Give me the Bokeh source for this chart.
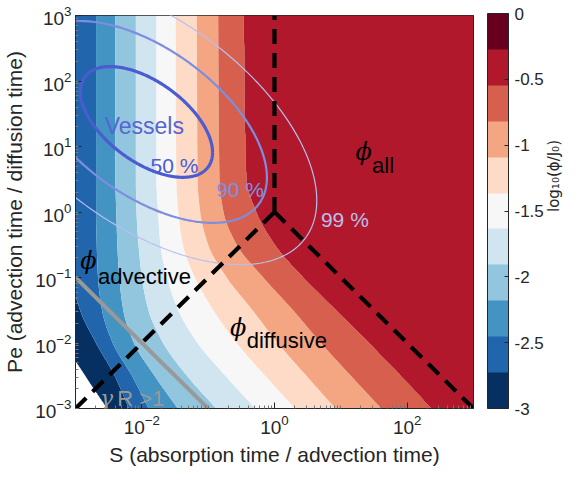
import numpy as np
from bokeh.plotting import figure
from bokeh.models import (Range1d, FixedTicker, LogTickFormatter, ColorBar,
                          LinearColorMapper, Label, LogAxis)
from bokeh.embed import file_html
from bokeh.resources import INLINE

# ---------------- data ----------------
# contour levels of log10(phi/J0) (11 colour classes from -3 to 0)
levels = list(np.round(np.linspace(-3.0, 0.0, 12), 4))
colors = ["#053061", "#2166ac", "#4393c3", "#92c5de", "#d1e5f0", "#f7f7f7",
          "#fddbc7", "#f4a582", "#d6604d", "#b2182b", "#67001f"]

# rows of log10(Pe) at which contour crossings were read
row_logpe = [-3.0, -2.5, -2.0, -1.5, -1.0, -0.5, 0.0, 0.5, 3.0]
# log10(S) where each boundary level (-3 ... -0.545) is crossed on that row
cross_m30 = [-2.52, -2.195, -1.90, -1.46, -0.88, -0.29, 0.31, 0.92, 1.61, 2.36]
cross_m25 = [-2.85, -2.41, -2.15, -1.81, -1.32, -0.74, -0.14, 0.48, 1.15, 1.90]
cross_m20 = [-3.15, -2.69, -2.44, -2.12, -1.68, -1.16, -0.57, 0.05, 0.70, 1.42]
cross_m15 = [-3.30, -2.93, -2.60, -2.28, -1.90, -1.45, -0.92, -0.33, 0.28, 0.93]
cross_m10 = [-3.40, -3.05, -2.66, -2.34, -2.00, -1.62, -1.20, -0.72, -0.17, 0.43]
cross_m05 = [-3.50, -3.01, -2.68, -2.37, -2.05, -1.72, -1.38, -1.00, -0.57, 0.00]
cross_p00 = [-3.60, -3.00, -2.69, -2.385, -2.08, -1.755, -1.45, -1.12, -0.77, -0.28]
cross_p05 = [-3.60, -3.00, -2.69, -2.40, -2.09, -1.78, -1.48, -1.16, -0.83, -0.43]
cross_p30 = [-3.60, -3.00, -2.69, -2.40, -2.09, -1.78, -1.49, -1.17, -0.85, -0.47]
crossings = [cross_m30, cross_m25, cross_m20, cross_m15, cross_m10,
             cross_m05, cross_p00, cross_p05, cross_p30]

# vessel distribution (log10 space): centre, spreads, correlation
vessel_center = (-1.93, 1.375)
vessel_sigma = (0.846, 0.718)
vessel_rho = -0.55
vessel_pct = [50, 90, 99]
vessel_colors = ["#4b5bd0", "#7d8de0", "#b7bff0"]
vessel_widths = [3.2, 2.2, 1.2]

# regime boundaries (S, Pe)
dash_x = [[1e-3, 1.0], [1.0, 1e3], [1.0, 1.0]]
dash_y = [[1e-3, 1.0], [1.0, 1e-3], [1.0, 1e3]]
gray_x = [1e-3, 1e-1]
gray_y = [1e-1, 1e-3]


def pchip(xk, yk, x):
    xk = np.asarray(xk, float)
    yk = np.asarray(yk, float)
    h = np.diff(xk)
    dl = np.diff(yk) / h
    n = xk.size
    d = np.zeros(n)
    for k in range(1, n - 1):
        if dl[k - 1] * dl[k] > 0:
            w1 = 2 * h[k] + h[k - 1]
            w2 = h[k] + 2 * h[k - 1]
            d[k] = (w1 + w2) / (w1 / dl[k - 1] + w2 / dl[k])
    d[0] = dl[0]
    d[-1] = dl[-1]
    i = np.clip(np.searchsorted(xk, x) - 1, 0, n - 2)
    t = (x - xk[i]) / h[i]
    return ((2 * t ** 3 - 3 * t ** 2 + 1) * yk[i] + (t ** 3 - 2 * t ** 2 + t) * h[i] * d[i]
            + (-2 * t ** 3 + 3 * t ** 2) * yk[i + 1] + (t ** 3 - t ** 2) * h[i] * d[i + 1])


# ---------------- field on a grid ----------------
lx = np.linspace(-3, 3, 401)
ly = np.linspace(-3, 3, 401)
cr = np.array(crossings)
bnd = levels[:10]
ck_all = np.stack([pchip(row_logpe, cr[:, k], ly) for k in range(cr.shape[1])], axis=1)
z = np.empty((ly.size, lx.size))
for j in range(ly.size):
    xp = [-10.0] + list(np.maximum.accumulate(ck_all[j])) + [10.0]
    fp = [-4.0] + bnd + [-0.3]
    z[j] = np.interp(lx, xp, fp)
z = np.minimum(z, -0.30)

FONT = "Liberation Sans"
TXT = "#262626"
W, H = 574, 468
ML, MR, MT, MB = 69, 101, 15, 58
FW, FH = W - ML - MR, H - MT - MB

p = figure(width=W, height=H, x_axis_type="log", y_axis_type="log",
           x_range=Range1d(1e-3, 1e3), y_range=Range1d(1e-3, 1e3),
           output_backend="svg", toolbar_location=None,
           min_border_left=ML, min_border_right=MR, min_border_top=MT,
           min_border_bottom=MB)
p.grid.visible = False
p.outline_line_color = TXT
p.outline_line_width = 1
p.background_fill_color = "white"

p.contour(x=10 ** lx, y=10 ** ly, z=z, levels=levels, fill_color=colors,
          line_color=None)

# vessel ellipses
t = np.linspace(0, 2 * np.pi, 400)
for pct, col, w in zip(vessel_pct, vessel_colors, vessel_widths):
    k = np.sqrt(-2 * np.log(1 - pct / 100.0))
    ex = vessel_center[0] + k * vessel_sigma[0] * np.cos(t)
    ey = vessel_center[1] + k * vessel_sigma[1] * (vessel_rho * np.cos(t) +
                                                   np.sqrt(1 - vessel_rho ** 2) * np.sin(t))
    p.line(10 ** ex, 10 ** ey, line_color=col, line_width=w)

p.line(gray_x, gray_y, line_color="#999999", line_width=4)
for xs, ys in zip(dash_x, dash_y):
    p.line(xs, ys, line_color="black", line_width=4.2, line_dash="15 9")

# axes
maj_x = [1e-2, 1.0, 1e2]
maj_y = [10.0 ** e for e in range(-3, 4)]
minor = [m * 10.0 ** e for e in range(-3, 3) for m in range(1, 10)]
minor_x = [v for v in minor if v not in maj_x] + [1e3]

p.xaxis.ticker = FixedTicker(ticks=maj_x, minor_ticks=minor_x)
p.yaxis.ticker = FixedTicker(ticks=maj_y, minor_ticks=minor)
for ax in (p.xaxis[0], p.yaxis[0]):
    ax.formatter = LogTickFormatter()
    ax.major_tick_in = 6
    ax.major_tick_out = 0
    ax.minor_tick_in = 3
    ax.minor_tick_out = 0
    ax.axis_line_color = TXT
    ax.major_tick_line_color = TXT
    ax.minor_tick_line_color = "#777777"
    ax.major_label_text_font = FONT
    ax.major_label_text_font_size = "19px"
    ax.major_label_text_color = TXT
    ax.axis_label_text_font = FONT
    ax.axis_label_text_font_size = "21px"
    ax.axis_label_text_font_style = "normal"
    ax.axis_label_text_color = TXT
p.xaxis.axis_label = "S (absorption time / advection time)"
p.yaxis.axis_label = "Pe (advection time / diffusion time)"
p.xaxis.major_label_standoff = 6
p.yaxis.major_label_standoff = 4
p.xaxis.axis_label_standoff = 6
p.yaxis.axis_label_standoff = 6

# right side: tick-less axis that only carries the colour-bar title
right = LogAxis(ticker=FixedTicker(ticks=[]))
right.axis_line_color = TXT
right.axis_label = "log\u2081\u2080(\u03d5/J\u2080)"
right.axis_label_text_font = "DejaVu Sans"
right.axis_label_text_font_size = "15px"
right.axis_label_text_font_style = "normal"
right.axis_label_text_color = TXT
right.axis_label_standoff = 80
try:
    right.axis_label_orientation = float(np.pi / 2)
except Exception:
    pass
p.add_layout(right, "right")

# colour bar, placed just right of the frame
mapper = LinearColorMapper(palette=colors, low=-3, high=0)
cb_ticks = [-3, -2.5, -2, -1.5, -1, -0.5, 0]
cb = ColorBar(color_mapper=mapper, width=21, height=FH, margin=0, padding=0,
              location=(FW + 8, 0),
              ticker=FixedTicker(ticks=cb_ticks),
              major_label_overrides={v: ("%g" % v) for v in cb_ticks},
              major_label_text_font=FONT, major_label_text_font_size="17px",
              major_label_text_color=TXT, label_standoff=6,
              major_tick_in=4, major_tick_out=0, major_tick_line_color=TXT,
              bar_line_color=TXT, bar_line_width=1,
              background_fill_alpha=0, border_line_color=None)
p.add_layout(cb, "center")


def lab(x, y, text, size, color="black", font=FONT, style="normal"):
    p.add_layout(Label(x=10 ** x, y=10 ** y, text=text, text_font=font,
                       text_font_size=size, text_color=color,
                       text_font_style=style, text_baseline="alphabetic",
                       text_align="left"))


PHI = "\u03d5"
lab(-2.56, 1.31, "Vessels", "23px", "#5565d2")
lab(-1.87, 0.71, "50 %", "21px", "#4b5bd0")
lab(-0.88, 0.35, "90 %", "21px", "#8090e0")
lab(0.70, -0.12, "99 %", "21px", "#b7bff0")
lab(1.22, 0.91, PHI, "24px", "black", "DejaVu Serif", "italic")
lab(1.47, 0.71, "all", "22px")
lab(-2.93, -0.75, PHI, "24px", "black", "DejaVu Serif", "italic")
lab(-2.66, -0.99, "advective", "22px")
lab(-0.67, -1.77, PHI, "24px", "black", "DejaVu Serif", "italic")
lab(-0.42, -1.96, "diffusive", "22px")
lab(-2.63, -2.84, "\u03b3", "22px", "#999999", "DejaVu Serif", "italic")
lab(-2.37, -2.84, "R >1", "22px", "#999999")

open("out.html", "w").write(file_html(p, INLINE))
